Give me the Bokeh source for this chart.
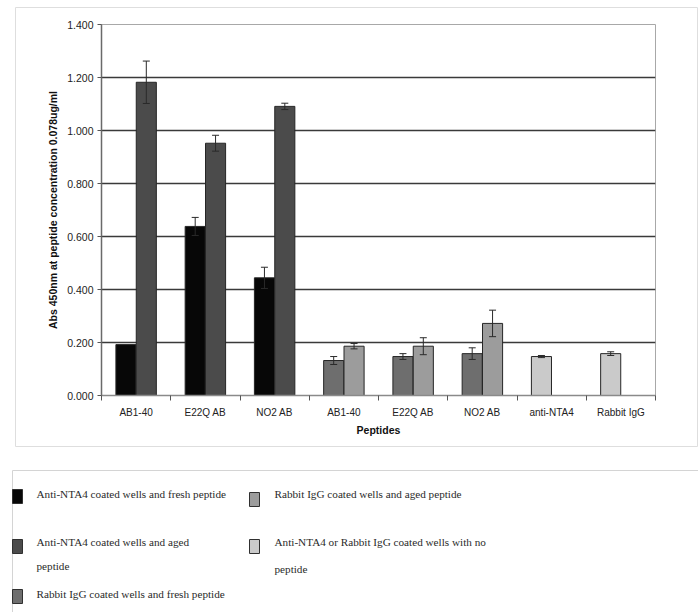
import numpy as np
from bokeh.plotting import figure
from bokeh.models import FixedTicker, Range1d, ColumnDataSource, Whisker, TeeHead, PrintfTickFormatter
from bokeh.embed import file_html
from bokeh.resources import INLINE
from bokeh.core.properties import value

# ---------------- data ----------------
categories = ["AB1-40", "E22Q AB", "NO2 AB", "AB1-40", "E22Q AB", "NO2 AB", "anti-NTA4", "Rabbit IgG"]
y_ticks = [0.0, 0.2, 0.4, 0.6, 0.8, 1.0, 1.2, 1.4]

legend_labels = [
    "Anti-NTA4 coated wells and fresh peptide",
    "Anti-NTA4 coated wells and aged\npeptide",
    "Rabbit IgG coated wells and fresh peptide",
    "Rabbit IgG coated wells and aged peptide",
    "Anti-NTA4 or Rabbit IgG coated wells with no\npeptide",
]
series_colors = ["#070707", "#4b4b4b", "#6e6e6e", "#9c9c9c", "#cacaca"]

anti_fresh_cat = [0, 1, 2]
anti_fresh = [0.192, 0.638, 0.444]
anti_fresh_err = [0.0, 0.034, 0.040]

anti_aged_cat = [0, 1, 2]
anti_aged = [1.182, 0.952, 1.091]
anti_aged_err = [0.080, 0.030, 0.012]

rabbit_fresh_cat = [3, 4, 5]
rabbit_fresh = [0.132, 0.147, 0.158]
rabbit_fresh_err = [0.015, 0.011, 0.022]

rabbit_aged_cat = [3, 4, 5]
rabbit_aged = [0.186, 0.186, 0.272]
rabbit_aged_err = [0.010, 0.032, 0.050]

no_pep_cat = [6, 7]
no_pep = [0.147, 0.158]
no_pep_err = [0.004, 0.007]

series = [
    (anti_fresh_cat, anti_fresh, anti_fresh_err, -1),
    (anti_aged_cat, anti_aged, anti_aged_err, 1),
    (rabbit_fresh_cat, rabbit_fresh, rabbit_fresh_err, -1),
    (rabbit_aged_cat, rabbit_aged, rabbit_aged_err, 1),
    (no_pep_cat, no_pep, no_pep_err, -1),
]

SANS = "Liberation Sans"
SERIF = "Liberation Serif"

# ---------------- layout geometry (pixels) ----------------
W, H = 698, 612
FL, FR, FT, FB = 101, 655, 24, 395   # plot frame edges

p = figure(width=W, height=H, x_range=Range1d(0, len(categories)), y_range=Range1d(0, 1.4),
           output_backend="svg", toolbar_location=None,
           min_border_left=FL, min_border_right=W - FR, min_border_top=FT, min_border_bottom=H - FB)
p.background_fill_color = "white"
p.border_fill_color = "white"
p.outline_line_color = "#a8a8a8"

# pixel-space ranges for decorations & legend (drawn outside the frame)
p.extra_x_ranges = {"px": Range1d(FL, FR)}
p.extra_y_ranges = {"py": Range1d(FB, FT)}

bar_w = 0.29
half = 0.147
for (cats, vals, errs, side), col in zip(series, series_colors):
    xs = [c + 0.5 + side * half for c in cats]
    src = ColumnDataSource(dict(x=xs, top=vals))
    p.vbar(x="x", top="top", width=bar_w, bottom=0, source=src,
           fill_color=col, line_color="#262626", line_width=1)
    esrc = ColumnDataSource(dict(
        x=[x for x, e in zip(xs, errs) if e > 0],
        upper=[v + e for v, e in zip(vals, errs) if e > 0],
        lower=[v - e for v, e in zip(vals, errs) if e > 0]))
    w = Whisker(source=esrc, base="x", upper="upper", lower="lower",
                line_color="#2a2a2a", line_width=1, level="overlay",
                upper_head=TeeHead(size=7, line_color="#2a2a2a", line_width=1),
                lower_head=TeeHead(size=7, line_color="#2a2a2a", line_width=1))
    p.add_layout(w)

# axes
p.xaxis.ticker = FixedTicker(ticks=[i + 0.5 for i in range(len(categories))],
                             minor_ticks=list(range(len(categories) + 1)))
p.xaxis.major_label_overrides = {i + 0.5: c for i, c in enumerate(categories)}
p.xaxis.major_tick_out = 0
p.xaxis.major_tick_in = 0
p.xaxis.minor_tick_out = 5
p.xaxis.minor_tick_in = 0
p.xaxis.minor_tick_line_color = "#555555"
p.xaxis.axis_line_color = "#8a8a8a"
p.xaxis.axis_line_width = 1.5
p.xaxis.major_label_standoff = 6
p.xaxis.major_label_text_font = SANS
p.xaxis.major_label_text_font_size = "10px"
p.xaxis.major_label_text_color = "#222222"
p.xaxis.axis_label = "Peptides"
p.xaxis.axis_label_text_font = SANS
p.xaxis.axis_label_text_font_size = "10.5px"
p.xaxis.axis_label_text_font_style = "bold"
p.xaxis.axis_label_text_color = "#111111"
p.xaxis.axis_label_standoff = 3

p.yaxis.ticker = FixedTicker(ticks=y_ticks, minor_ticks=[])
p.yaxis.formatter = PrintfTickFormatter(format="%.3f")
p.yaxis.major_tick_out = 4
p.yaxis.major_tick_in = 0
p.yaxis.major_tick_line_color = "#555555"
p.yaxis.axis_line_color = "#6a6a6a"
p.yaxis.axis_line_width = 1.5
p.yaxis.major_label_standoff = 4
p.yaxis.major_label_text_font = SANS
p.yaxis.major_label_text_font_size = "10.5px"
p.yaxis.major_label_text_color = "#222222"
p.yaxis.axis_label = "Abs 450nm at peptide concentration 0.078ug/ml"
p.yaxis.axis_label_text_font = SANS
p.yaxis.axis_label_text_font_size = "10.5px"
p.yaxis.axis_label_text_font_style = "bold"
p.yaxis.axis_label_text_color = "#111111"
p.yaxis.axis_label_standoff = 5

p.xgrid.visible = False
p.ygrid.ticker = FixedTicker(ticks=y_ticks[1:-1], minor_ticks=[])
p.ygrid.grid_line_color = "#3a3a3a"
p.ygrid.grid_line_width = 1.4

# ---------------- frames (chart box and legend box) ----------------
PX = dict(x_range_name="px", y_range_name="py", level="overlay")
p.segment(x0=[15, 15, 697, 15], y0=[7, 7, 7, 446], x1=[15, 697, 697, 697], y1=[446, 7, 446, 446],
          line_color="#dedede", line_width=1, **PX)
p.segment(x0=[12, 12], y0=[470, 470], x1=[698, 12], y1=[470, H], line_color="#d4d4d4", line_width=1, **PX)

# ---------------- legend ----------------
marker_pos = [(17, 496), (17, 546), (17, 596), (254, 499), (254, 546)]
text_pos = [(36, 493), (36, 541), (36, 593), (274, 493), (274, 541)]
line_gap = [24, 24, 24, 24, 27]

p.rect(x=[m[0] for m in marker_pos], y=[m[1] for m in marker_pos], width=10, height=14,
       fill_color=series_colors, line_color="#303030", line_width=1, **PX)

tx, ty, tt = [], [], []
for (x0, y0), lab, gap in zip(text_pos, legend_labels, line_gap):
    for k, line in enumerate(lab.split("\n")):
        tx.append(x0)
        ty.append(y0 + k * gap)
        tt.append(line)
p.text(x=tx, y=ty, text=tt, text_baseline="middle", text_align="left",
       text_font=value(SERIF), text_font_size="11.2px", text_color="#2a2a2a", **PX)

open("out.html", "w").write(file_html(p, INLINE))
